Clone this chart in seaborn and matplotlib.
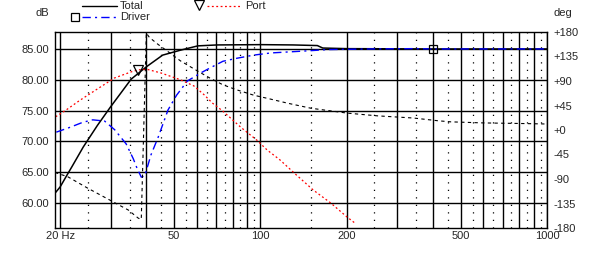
import matplotlib
matplotlib.use("Agg")
import matplotlib.pyplot as plt
import seaborn as sns
from matplotlib.lines import Line2D

sns.set_style("white")
plt.rcParams['font.family'] = ['Liberation Sans', 'DejaVu Sans']
plt.rcParams['font.size'] = 8

# SPL curves (Hz, dB)
total_f = [19.2, 20, 21, 22, 24.1, 27, 30, 35.4, 40, 45.6, 52.6, 60.5, 70.6, 100, 130, 158, 165, 200, 400, 1000]
total_db = [61.6, 62.6, 64.3, 65.9, 69.1, 72.6, 75.6, 80.1, 82.1, 84.0, 84.8, 85.5, 85.65, 85.7, 85.65, 85.55, 85.15, 85.05, 85.0, 85.0]

driver_f = [19.4, 21.7, 24, 26, 28.6, 31, 34, 36, 37, 38.4, 39.5, 41.5, 44, 47.6, 51, 55.6, 61.9, 66.6, 74, 83, 94.7,
            108.6, 147, 172, 242, 342, 400, 1000]
driver_db = [71.5, 72.3, 73.1, 73.5, 73.3, 71.9, 69.6, 67.2, 65.8, 64.2, 64.4, 67.8, 70.7, 75.1, 77.5, 79.8, 81.1, 81.9,
             83.0, 83.5, 84.0, 84.35, 84.7, 84.9, 85.0, 85.05, 85.0, 85.0]

port_f = [19.3, 21, 23.5, 27.6, 31, 35.5, 37.5, 40.2, 45, 52.6, 58.6, 63.5, 68.1, 74, 85.4, 97.2, 105.6, 117, 131, 153,
          176, 201, 213]
port_db = [74.0, 75.1, 76.7, 78.8, 80.3, 81.3, 81.6, 81.7, 81.1, 80.0, 79.0, 77.6, 76.2, 74.9, 72.3, 70.2, 68.6, 67.0,
           64.9, 62.1, 60.0, 57.7, 56.8]

# phase (deg), wraps at ~39 Hz
phase_f = [19.2, 21.3, 25, 29.9, 34.6, 37.5, 38.4, 40.0, 41, 44, 47.3, 52.6, 60.5, 66.6, 74, 83, 94.7, 108, 125, 150,
           201, 256, 342, 416, 461, 600, 800, 1000]
phase_deg = [-78, -86, -107, -129, -147, -162, -164, 178, 170, 157, 145, 127, 108, 95.5, 83, 73.5, 64, 57, 49, 40,
             31, 26, 22, 17, 15, 13, 12, 11]

x_major = [20, 30, 40, 50, 60, 70, 80, 90, 100, 200, 300, 400, 500, 600, 700, 800, 900, 1000]
x_labels = {20: "20 Hz", 50: "50", 100: "100", 200: "200", 500: "500", 1000: "1000"}
x_minor = [25, 35, 45, 55, 65, 75, 85, 95, 150, 250, 350, 450, 550, 650, 750, 850, 950]
db_ticks = [60, 65, 70, 75, 80, 85]
deg_ticks = [-180, -135, -90, -45, 0, 45, 90, 135, 180]

fig = plt.figure(figsize=(6.02, 2.69), dpi=100)
ax = fig.add_axes([55 / 602, 1 - 228 / 269, 492 / 602, 196 / 269])

sns.lineplot(x=total_f, y=total_db, ax=ax, color='black', lw=1.1)
sns.lineplot(x=driver_f, y=driver_db, ax=ax, color='#0000ff', lw=1.0, linestyle=(0, (6, 3, 1.5, 3)),
             marker='s', markevery=[driver_f.index(400)], markersize=6,
             markerfacecolor='none', markeredgecolor='black', markeredgewidth=0.9)
sns.lineplot(x=port_f, y=port_db, ax=ax, color='#ff0000', lw=0.9, linestyle=(0, (1.5, 2)),
             marker='v', markevery=[6], markersize=7,
             markerfacecolor='none', markeredgecolor='black', markeredgewidth=0.9)

ax.set_xscale('log')
ax.set_xlim(19.2, 1000)
ax.set_ylim(55.95, 87.75)
ax.set_xticks(x_major)
ax.set_xticklabels([x_labels.get(t, "") for t in x_major])
ax.set_xticks(x_minor, minor=True)
ax.set_xticklabels([], minor=True)
ax.set_yticks(db_ticks)
ax.set_yticklabels([f"{t:.2f}" for t in db_ticks])
ax.tick_params(axis='both', which='both', length=0)
ax.tick_params(axis='y', pad=4.5)
ax.tick_params(axis='x', pad=2)
ax.grid(which='major', color='black', lw=1.0)
ax.grid(which='minor', axis='x', color='black', lw=0.9, linestyle=(0, (1, 5)))
ax.set_axisbelow(True)
ax.set_xlabel("")
ax.set_ylabel("")
for s in ax.spines.values():
    s.set_color('black')
    s.set_linewidth(1.0)

ax2 = ax.twinx()
sns.lineplot(x=phase_f, y=phase_deg, ax=ax2, color='black', lw=0.8, linestyle=(0, (3, 3)), sort=False)
ax2.set_ylim(-180, 180)
ax2.set_yticks(deg_ticks)
ax2.set_yticklabels([f"{t:+d}" if t != 0 else "+0" for t in deg_ticks])
ax2.tick_params(axis='y', length=0, pad=4.5)
ax2.set_ylabel("")
ax2.grid(False)
for s in ax2.spines.values():
    s.set_visible(False)

# axis unit labels
fig.text(35 / 602, 1 - 12.5 / 269, "dB", ha='left', va='center')
fig.text(553 / 602, 1 - 12.5 / 269, "deg", ha='left', va='center')

# legend drawn by hand
def fy(y):
    return 1 - y / 269

def fx(x):
    return x / 602

fig.add_artist(Line2D([fx(82), fx(117)], [fy(6), fy(6)], color='black', lw=1.0))
fig.text(fx(120), fy(6), "Total", ha='left', va='center')
fig.add_artist(Line2D([fx(75)], [fy(17)], marker='s', markersize=6, markerfacecolor='none',
                      markeredgecolor='black', markeredgewidth=0.9, lw=0))
fig.add_artist(Line2D([fx(82), fx(116)], [fy(17), fy(17)], color='#0000ff', lw=1.0, linestyle=(0, (6, 3, 1.5, 3))))
fig.text(fx(120), fy(17), "Driver", ha='left', va='center')
fig.add_artist(Line2D([fx(199)], [fy(5)], marker='v', markersize=7, markerfacecolor='none',
                      markeredgecolor='black', markeredgewidth=0.9, lw=0))
fig.add_artist(Line2D([fx(207), fx(240)], [fy(6), fy(6)], color='#ff0000', lw=0.9, linestyle=(0, (1.5, 2))))
fig.text(fx(245), fy(6), "Port", ha='left', va='center')

fig.savefig("out.png", dpi=100)
